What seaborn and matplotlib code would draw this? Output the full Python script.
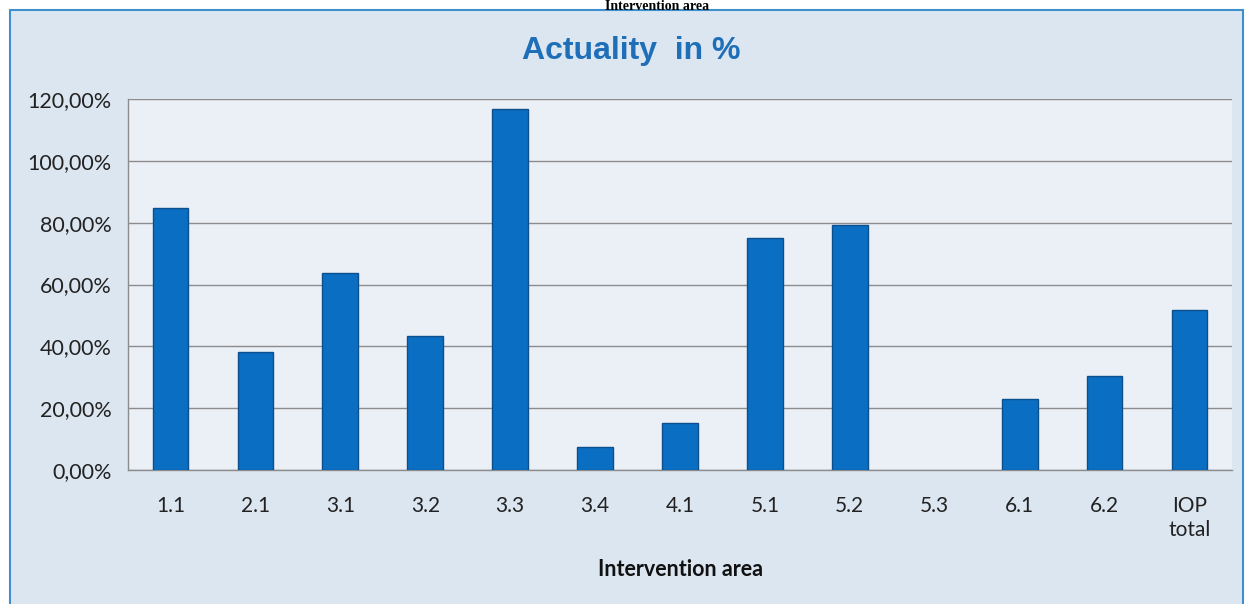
import pandas as pd
import matplotlib.pyplot as plt
import matplotlib.patches as mpatches
from matplotlib.ticker import FuncFormatter, FixedLocator
import seaborn as sns

# data (percent)
areas = ["1.1", "2.1", "3.1", "3.2", "3.3", "3.4", "4.1",
         "5.1", "5.2", "5.3", "6.1", "6.2", "IOP\ntotal"]
actuality = [84.7, 38.2, 63.7, 43.3, 116.8, 7.4, 15.2,
             75.0, 79.2, 0.0, 23.0, 30.4, 51.7]
y_ticks = [0, 20, 40, 60, 80, 100, 120]

df = pd.DataFrame({"area": areas, "value": actuality})

sns.set_style("white")
plt.rcParams["font.family"] = ["Lato", "DejaVu Sans"]

W, H = 1245, 604
fig = plt.figure(figsize=(W / 100, H / 100), dpi=100)
fig.patch.set_facecolor("white")

# outer chart frame (behind the axes)
frame = mpatches.Rectangle((10 / W, -0.05), 1233 / W, 1 - 10 / H + 0.05,
                           transform=fig.transFigure, facecolor="#dce6f1",
                           edgecolor="#3f8fcd", linewidth=1.5, zorder=-10)
fig.patches.append(frame)

# caption above the frame (cut at the top in the original)
fig.text(657 / W, 1 - 0.5 / H, "Intervention area", ha="center", va="top",
         fontsize=10, fontweight="bold", family="Liberation Serif", color="black")

ax = fig.add_axes([128 / W, (H - 470) / H, 1104 / W, 371 / H])
ax.set_facecolor("#ebf0f7")

sns.barplot(data=df, x="area", y="value", order=areas, color="#0a6fc2",
            width=0.42, edgecolor="#0b4f8e", linewidth=1.0, saturation=1,
            ax=ax, zorder=3)
# no outline for empty bars
for bar in ax.patches:
    if bar.get_height() == 0:
        bar.set_linewidth(0)

ax.set_xlim(-0.5, len(areas) - 0.5)
ax.set_ylim(0, 120)
ax.yaxis.set_major_locator(FixedLocator(y_ticks))
ax.yaxis.set_major_formatter(FuncFormatter(lambda v, p: f"{v:.2f}".replace(".", ",") + "%"))
ax.yaxis.grid(True, color="#8c8c8c", linewidth=1.0, zorder=0)
ax.set_axisbelow(True)

# tick marks between categories like the original
ax.xaxis.set_minor_locator(FixedLocator([i - 0.5 for i in range(len(areas) + 1)]))
ax.tick_params(axis="x", which="major", length=0, pad=19, labelsize=15, labelcolor="#222222")
ax.tick_params(axis="x", which="minor", length=5, color="#8c8c8c", width=1)
ax.tick_params(axis="y", length=5, color="#8c8c8c", width=1, labelsize=15.5,
               labelcolor="#222222", pad=7)

for s in ["top", "right"]:
    ax.spines[s].set_visible(False)
for s in ["left", "bottom"]:
    ax.spines[s].set_color("#8c8c8c")
    ax.spines[s].set_linewidth(1.0)

ax.set_ylabel("")
ax.set_xlabel("Intervention area", fontsize=15.5, fontweight="bold", color="#111111", labelpad=14)

fig.text(631 / W, 1 - 51 / H, "Actuality  in %", ha="center", va="center",
         fontsize=23, fontweight="bold", color="#1f6fb8", family="Liberation Sans")

fig.savefig("out.png", dpi=100)
